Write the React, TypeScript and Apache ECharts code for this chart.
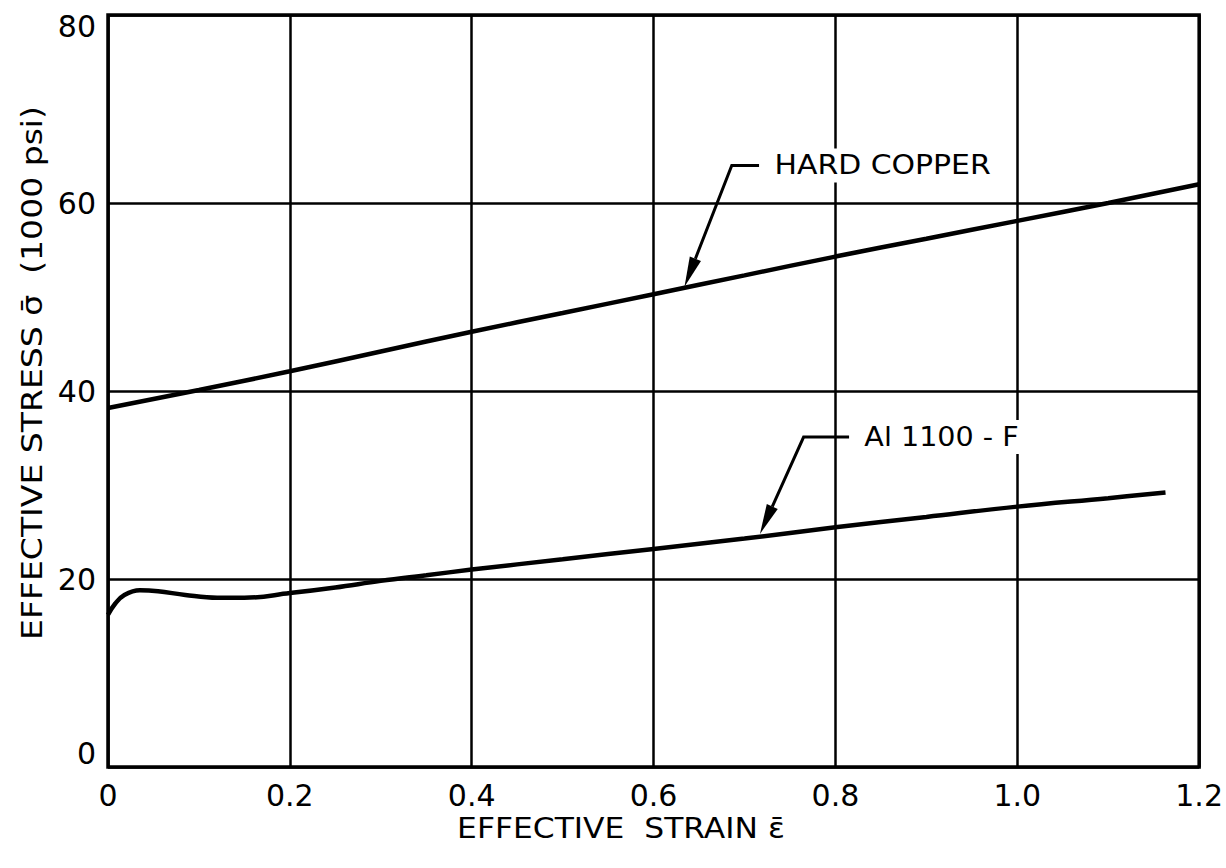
import React, { useEffect, useRef } from "react";
import * as echarts from "echarts";

const xTicks = [0, 0.2, 0.4, 0.6, 0.8, 1.0, 1.2];
const yTicks = [0, 20, 40, 60, 80];

const copperStrain = [0, 0.1, 0.2, 0.3, 0.4, 0.5, 0.6, 0.7, 0.8, 0.9, 1.0, 1.1, 1.2];
const copperStress = [38.2, 40.1, 42.1, 44.2, 46.3, 48.3, 50.3, 52.3, 54.3, 56.2, 58.1, 60.0, 62.0];

const alStrain = [0, 0.008, 0.018, 0.035, 0.055, 0.085, 0.12, 0.15, 0.2, 0.25, 0.3, 0.35, 0.4, 0.5, 0.6, 0.7, 0.8, 0.9, 1.0, 1.1, 1.163];
const alStress = [16.2, 17.4, 18.3, 18.8, 18.7, 18.3, 18.0, 18.0, 18.5, 19.1, 19.8, 20.4, 21.0, 22.1, 23.2, 24.3, 25.5, 26.6, 27.7, 28.6, 29.2];

const annotations = [
  { label: "HARD COPPER", tip: [0.634, 51.1], elbow: [0.686, 64.0], end: [0.716, 64.0], scale: 1.15 },
  { label: "Al 1100 - F", tip: [0.717, 24.8], elbow: [0.765, 35.1], end: [0.815, 35.1], scale: 1.1 },
];

const xTitle = "EFFECTIVE  STRAIN \u03B5\u0304";
const yTitle = "EFFECTIVE STRESS \u03C3\u0304  (1000 psi)";

const FONT = "DejaVu Sans";

export default function App() {
  const ref = useRef<HTMLDivElement>(null);
  useEffect(() => {
    if (!ref.current) return;
    const chart = echarts.init(ref.current, null, { renderer: "svg" });
    const tickStyle = { color: "#000", fontFamily: FONT, fontSize: 30 };
    chart.setOption({
      animation: false,
      backgroundColor: "#fff",
      grid: { left: 108, right: 21, top: 15, bottom: 101, show: true, borderColor: "#000", borderWidth: 3.5 },
      xAxis: {
        type: "value",
        min: 0,
        max: 1.2,
        interval: 0.2,
        axisLine: { show: false },
        axisTick: { show: false },
        splitLine: { show: true, lineStyle: { color: "#000", width: 2.5 } },
        axisLabel: {
          margin: 13,
          ...tickStyle,
          formatter: (v: number) => {
            const t = xTicks.find((k) => Math.abs(k - v) < 1e-6);
            if (t === undefined) return "";
            return t === 0 ? "0" : t.toFixed(1);
          },
        },
      },
      yAxis: {
        type: "value",
        min: 0,
        max: 80,
        interval: 20,
        axisLine: { show: false },
        axisTick: { show: false },
        splitLine: { show: true, lineStyle: { color: "#000", width: 2.5 } },
        axisLabel: {
          margin: 12,
          ...tickStyle,
          formatter: (v: number) => {
            if (!yTicks.includes(v)) return "";
            if (v === 80) return "{top|80}";
            if (v === 0) return "{bot|0}";
            return String(v);
          },
          rich: {
            top: { ...tickStyle, padding: [22, 0, 0, 0] },
            bot: { ...tickStyle, padding: [0, 0, 28, 0] },
          },
        },
      },
      series: [
        {
          name: "HARD COPPER",
          type: "line",
          data: copperStrain.map((x, i) => [x, copperStress[i]]),
          showSymbol: false,
          smooth: true,
          lineStyle: { color: "#000", width: 4.5 },
        },
        {
          name: "Al 1100 - F",
          type: "line",
          data: alStrain.map((x, i) => [x, alStress[i]]),
          showSymbol: false,
          smooth: 0.4,
          lineStyle: { color: "#000", width: 4.5 },
        },
      ],
    });

    const graphics: any[] = [];
    const toPx = (p: number[]) => chart.convertToPixel({ gridIndex: 0 }, p) as number[];
    annotations.forEach((a) => {
      const tip = toPx(a.tip);
      const elbow = toPx(a.elbow);
      const end = toPx(a.end);
      const dx = tip[0] - elbow[0];
      const dy = tip[1] - elbow[1];
      const len = Math.hypot(dx, dy);
      const ux = dx / len;
      const uy = dy / len;
      const L = 30;
      const W = 6;
      const bx = tip[0] - ux * L;
      const by = tip[1] - uy * L;
      graphics.push({
        type: "polyline",
        shape: { points: [[end[0], end[1]], elbow, [bx, by]] },
        style: { stroke: "#000", lineWidth: 3, fill: null },
      });
      graphics.push({
        type: "polygon",
        shape: { points: [tip, [bx - uy * W, by + ux * W], [bx + uy * W, by - ux * W]] },
        style: { fill: "#000" },
      });
      graphics.push({
        type: "text",
        x: end[0] + 12,
        y: end[1],
        scaleX: a.scale,
        style: {
          text: a.label,
          font: `26px '${FONT}'`,
          fill: "#000",
          verticalAlign: "middle",
          align: "left",
          backgroundColor: "#fff",
          padding: [4, 3, 4, 3],
        },
      });
    });
    graphics.push({
      type: "text",
      x: 621,
      y: 828,
      scaleX: 1.12,
      style: { text: xTitle, font: `28px '${FONT}'`, fill: "#000", align: "center", verticalAlign: "middle" },
    });
    graphics.push({
      type: "text",
      x: 32,
      y: 373,
      rotation: Math.PI / 2,
      scaleX: 1.14,
      style: { text: yTitle, font: `29px '${FONT}'`, fill: "#000", align: "center", verticalAlign: "middle" },
    });
    chart.setOption({ graphic: graphics });

    return () => chart.dispose();
  }, []);
  return <div ref={ref} style={{ position: "fixed", left: 0, top: 0, width: 1226, height: 868 }} />;
}
